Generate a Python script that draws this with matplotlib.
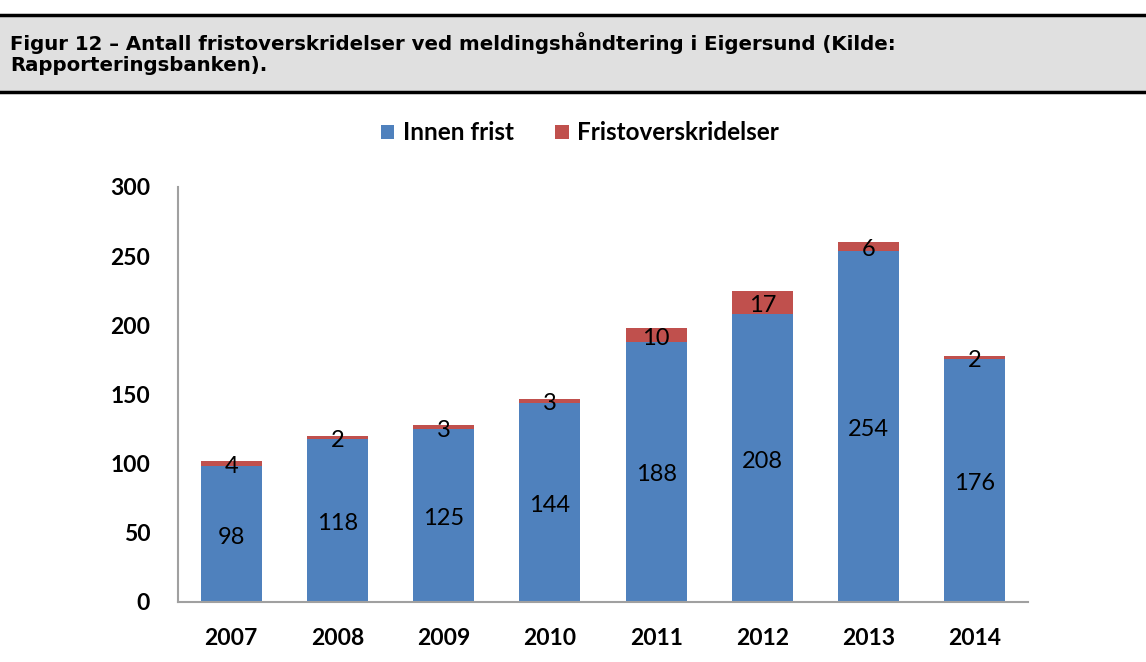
import matplotlib
matplotlib.use("Agg")
import matplotlib.pyplot as plt
from matplotlib.patches import Rectangle
from matplotlib.lines import Line2D

years = ["2007", "2008", "2009", "2010", "2011", "2012", "2013", "2014"]
innen = [98, 118, 125, 144, 188, 208, 254, 176]
brudd = [4, 2, 3, 3, 10, 17, 6, 2]
yticks = [0, 50, 100, 150, 200, 250, 300]
title = "Figur 12 – Antall fristoverskridelser ved meldingshåndtering i Eigersund (Kilde:\nRapporteringsbanken)."

blue = "#4F81BD"
red = "#C0504D"

W, H = 1146, 662
fig = plt.figure(figsize=(W / 100, H / 100), dpi=100)

# Header box
fig.patches.append(Rectangle((0, 1 - 92 / H), 1, (92 - 15) / H, transform=fig.transFigure,
                             facecolor="#E0E0E0", edgecolor="none", zorder=0))
for yy in (15, 92):
    fig.lines.append(Line2D([0, 1], [1 - yy / H, 1 - yy / H], transform=fig.transFigure,
                            color="black", lw=2.5))
fig.text(10 / W, 1 - 32 / H, title, ha="left", va="top", fontsize=14.2, fontweight="bold",
         family="DejaVu Sans", linespacing=1.15)

ax = fig.add_axes([178 / W, 1 - 602 / H, (1028 - 178) / W, (602 - 187) / H])
x = list(range(len(years)))
bw = 0.575
b1 = ax.bar(x, innen, bw, color=blue, label="Innen frist", zorder=2)
b2 = ax.bar(x, brudd, bw, bottom=innen, color=red, label="Fristoverskridelser", zorder=2)

for i in x:
    ax.annotate(str(innen[i]), (i, innen[i] / 2), xytext=(0, -3), textcoords="offset pixels",
                ha="center", va="center", fontsize=17, family="Lato", color="black", zorder=3)
    ax.annotate(str(brudd[i]), (i, innen[i] + brudd[i] / 2), xytext=(0, -3),
                textcoords="offset pixels", ha="center", va="center", fontsize=17,
                family="Lato", color="black", zorder=3)

ax.set_xlim(-0.5, len(years) - 0.5)
ax.set_ylim(0, 300)
ax.tick_params(length=0)
ax.tick_params(axis="y", pad=20)
ax.tick_params(axis="x", pad=19)
ax.set_yticks(yticks, labels=[str(v) for v in yticks], fontsize=16.5, fontweight="bold",
              family="Lato")
ax.set_xticks(x, labels=years, fontsize=16.5, fontweight="bold", family="Lato")
for s in ("top", "right"):
    ax.spines[s].set_visible(False)
for s in ("left", "bottom"):
    ax.spines[s].set_color("#A0A0A0")
    ax.spines[s].set_linewidth(1.5)

leg = fig.legend(handles=[b1, b2], loc="center", bbox_to_anchor=(580 / W, 1 - 133 / H),
                 ncol=2, frameon=False, prop={"family": "Lato", "weight": "bold", "size": 17.5},
                 handlelength=0.55, handleheight=0.55, handletextpad=0.35, columnspacing=1.7)

fig.savefig("out.png", dpi=100)
